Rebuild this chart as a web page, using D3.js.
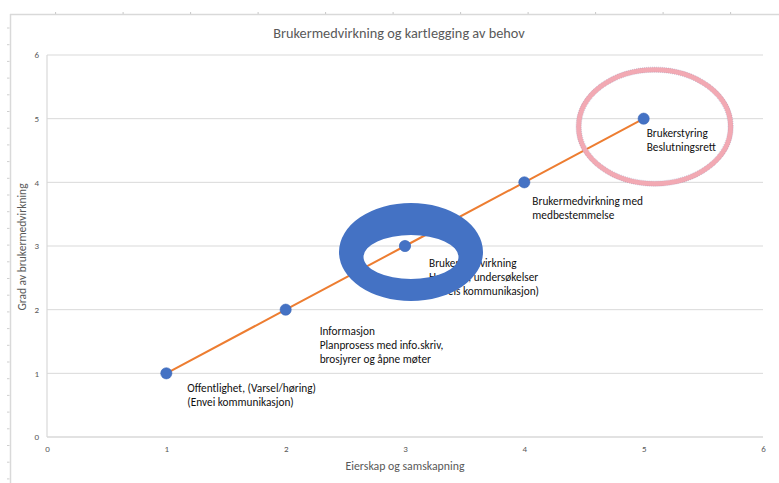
<!DOCTYPE html>
<html>
<head>
<meta charset="utf-8">
<script src="https://cdn.jsdelivr.net/npm/d3@7"></script>
<style>
  html, body { margin: 0; padding: 0; background: #fff; }
  svg { display: block; font-family: Carlito, Lato, "Open Sans", sans-serif; }
</style>
</head>
<body>
<svg id="chart" width="779" height="483"></svg>
<script>
// Stages of user involvement: ownership (x) against degree of involvement (y)
const eierskap = [1, 2, 3, 4, 5];
const grad = [1, 2, 3, 4, 5];
const stageLabels = [
  ["Offentlighet, (Varsel/høring)", "(Envei kommunikasjon)"],
  ["Informasjon", "Planprosess med info.skriv,", "brosjyrer og åpne møter"],
  ["Brukermedvirkning", "Høringer, undersøkelser", "(Toveis kommunikasjon)"],
  ["Brukermedvirkning med", "medbestemmelse"],
  ["Brukerstyring", "Beslutningsrett"]
];
const xTicks = [0, 1, 2, 3, 4, 5, 6];
const yTicks = [0, 1, 2, 3, 4, 5, 6];
const title = "Brukermedvirkning og kartlegging av behov";
const xTitle = "Eierskap og samskapning";
const yTitle = "Grad av brukermedvirkning";

// Label placement relative to each point (first baseline), in px
const labelOffsets = [[21, 19], [34, 25], [24, 20.5], [8, 23], [3, 18.5]];
const lineStep = 14;

const svg = d3.select("#chart");
const W = 779, H = 483;

const x = d3.scaleLinear().domain([0, 6]).range([47, 763]);
const y = d3.scaleLinear().domain([0, 6]).range([437, 55]);

const grey = "#595959";
const gridCol = "#d9d9d9";

// Outer frame with faint ruler marks
const frame = svg.append("g");
frame.append("line").attr("x1", 10).attr("x2", W).attr("y1", 14.5).attr("y2", 14.5)
  .attr("stroke", gridCol).attr("stroke-width", 1.5);
frame.append("line").attr("x1", 10.5).attr("x2", 10.5).attr("y1", 14).attr("y2", H)
  .attr("stroke", gridCol).attr("stroke-width", 1.5);
d3.range(55.6, 740, 67.5).forEach(px => {
  frame.append("line").attr("x1", px).attr("x2", px).attr("y1", 12).attr("y2", 14)
    .attr("stroke", "#c8c8c8").attr("stroke-width", 1);
});
d3.range(28, 480, 16.7).forEach(py => {
  frame.append("line").attr("x1", 7).attr("x2", 9.5).attr("y1", py).attr("y2", py)
    .attr("stroke", "#cfcfcf").attr("stroke-width", 1);
});

// Title
svg.append("text").attr("x", 399).attr("y", 38).attr("text-anchor", "middle")
  .attr("font-size", 14.3).attr("fill", grey).text(title);

// Gridlines
const grid = svg.append("g");
grid.selectAll("line.h").data(yTicks).join("line")
  .attr("x1", x(0)).attr("x2", x(6))
  .attr("y1", d => y(d)).attr("y2", d => y(d))
  .attr("stroke", gridCol).attr("stroke-width", d => d === 0 ? 1.6 : 1);
grid.append("line").attr("x1", x(0)).attr("x2", x(0)).attr("y1", y(6)).attr("y2", y(0))
  .attr("stroke", gridCol).attr("stroke-width", 1.2);

// Axes (labels only)
const xAxis = svg.append("g").attr("transform", `translate(0,${y(0) + 5})`)
  .call(d3.axisBottom(x).tickValues(xTicks).tickFormat(d3.format("d")).tickSize(0).tickPadding(4));
const yAxis = svg.append("g").attr("transform", `translate(${x(0) - 6},0)`)
  .call(d3.axisLeft(y).tickValues(yTicks).tickFormat(d3.format("d")).tickSize(0).tickPadding(2));
[xAxis, yAxis].forEach(a => {
  a.select(".domain").remove();
  a.selectAll("text").attr("fill", grey).attr("font-size", 9)
    .attr("font-family", "Carlito, Lato, 'Open Sans', sans-serif");
});

// Axis titles
svg.append("text").attr("x", 405).attr("y", 470).attr("text-anchor", "middle")
  .attr("font-size", 11.8).attr("fill", grey).text(xTitle);
svg.append("text").attr("transform", `translate(26,${y(3) + 1}) rotate(-90)`)
  .attr("text-anchor", "middle").attr("font-size", 11.5).attr("fill", grey).text(yTitle);

// Series line
const pts = eierskap.map((v, i) => ({ x: v, y: grad[i], label: stageLabels[i] }));
svg.append("path").datum(pts)
  .attr("d", d3.line().x(d => x(d.x)).y(d => y(d.y)))
  .attr("fill", "none").attr("stroke", "#ED7D31").attr("stroke-width", 2);

// Points
svg.append("g").selectAll("circle").data(pts).join("circle")
  .attr("cx", d => x(d.x)).attr("cy", d => y(d.y)).attr("r", 5.6)
  .attr("fill", "#4472C4").attr("stroke", "#3d68b8").attr("stroke-width", 0.6);

// Stage labels
const lbl = svg.append("g").selectAll("text").data(pts).join("text")
  .attr("font-size", 11.3).attr("fill", "#111")
  .attr("x", (d, i) => x(d.x) + labelOffsets[i][0])
  .attr("y", (d, i) => y(d.y) + labelOffsets[i][1]);
lbl.each(function (d, i) {
  d3.select(this).selectAll("tspan").data(d.label).join("tspan")
    .attr("x", x(d.x) + labelOffsets[i][0])
    .attr("dy", (t, k) => k === 0 ? 0 : lineStep)
    .text(t => t);
});

// Highlight ring around the middle stage
const p3 = pts[2];
const cx3 = x(p3.x) + 6, cy3 = y(p3.y) + 6;
const ellipsePath = (cx, cy, rx, ry) =>
  `M${cx - rx},${cy}a${rx},${ry} 0 1,0 ${2 * rx},0a${rx},${ry} 0 1,0 ${-2 * rx},0Z`;
svg.append("path")
  .attr("d", ellipsePath(cx3, cy3, 72, 49) + ellipsePath(cx3, cy3 + 5, 47.5, 22))
  .attr("fill", "#4472C4").attr("fill-rule", "evenodd");
svg.append("circle").attr("cx", x(p3.x)).attr("cy", y(p3.y)).attr("r", 5.6)
  .attr("fill", "#4472C4");

// Highlight ellipse around the final stage
const p5 = pts[4];
const cx5 = x(p5.x) + 11, cy5 = y(p5.y) + 8;
const ring = svg.append("g");
ring.append("ellipse").attr("cx", cx5).attr("cy", cy5).attr("rx", 76).attr("ry", 57)
  .attr("fill", "none").attr("stroke", "#f2a9b3").attr("stroke-width", 5);
[[78.6, 59.6], [73.4, 54.4]].forEach(([rx, ry]) => {
  ring.append("ellipse").attr("cx", cx5).attr("cy", cy5).attr("rx", rx).attr("ry", ry)
    .attr("fill", "none").attr("stroke", "#4a5590").attr("stroke-width", 0.6)
    .attr("stroke-dasharray", "0.8 1.2").attr("opacity", 0.5);
});
</script>
</body>
</html>
